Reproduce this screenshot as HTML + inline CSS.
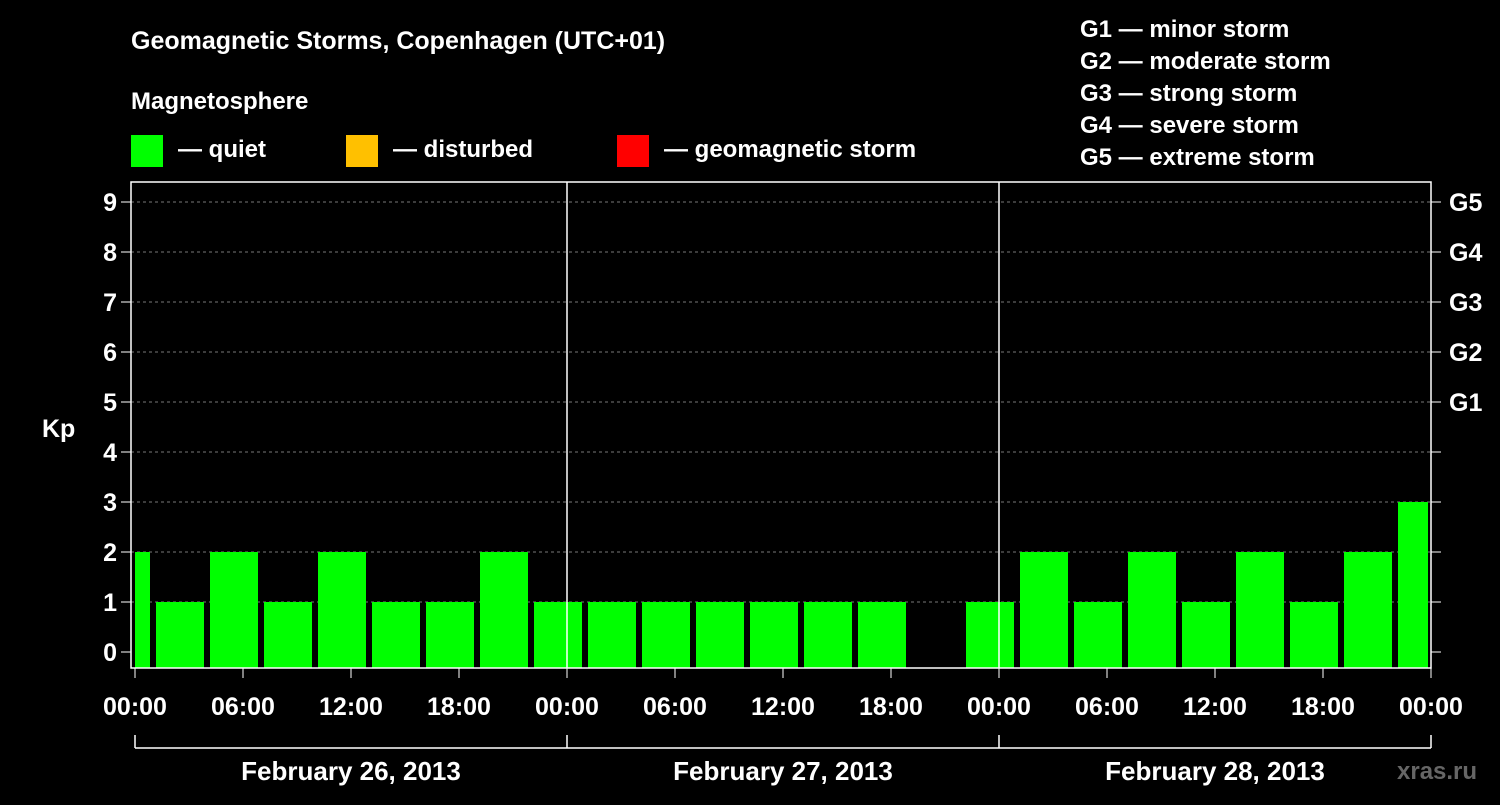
<!DOCTYPE html>
<html><head><meta charset="utf-8"><style>
body{margin:0;background:#000;width:1500px;height:800px;overflow:hidden;font-family:"Liberation Sans",sans-serif}
svg text{font-family:"Liberation Sans",sans-serif;font-weight:bold;fill:#fff}
</style></head><body>
<svg id="c" width="1500" height="800">
<text x="131" y="49" font-size="25">Geomagnetic Storms, Copenhagen (UTC+01)</text>
<text x="131" y="109" font-size="24">Magnetosphere</text>
<rect x="131" y="135" width="32" height="32" fill="#00ff00"/>
<text x="178" y="157" font-size="24">— quiet</text>
<rect x="346" y="135" width="32" height="32" fill="#ffc000"/>
<text x="393" y="157" font-size="24">— disturbed</text>
<rect x="617" y="135" width="32" height="32" fill="#ff0000"/>
<text x="664" y="157" font-size="24">— geomagnetic storm</text>
<g font-size="24">
<text x="1080" y="37">G1 — minor storm</text>
<text x="1080" y="69">G2 — moderate storm</text>
<text x="1080" y="101">G3 — strong storm</text>
<text x="1080" y="133">G4 — severe storm</text>
<text x="1080" y="165">G5 — extreme storm</text>
</g>
<text x="42" y="437" font-size="25">Kp</text>
<text x="1397" y="779" font-size="24" fill="#555" style="fill:#666">xras.ru</text>
<g id="plot"></g>
</svg>
<script>
const kpValues=[2,1,2,1,2,1,1,2,1,1,1,1,1,1,1,null,1,2,1,2,1,2,1,2,3];
const startHour=-2; // bars start at 22:00 UTC of previous day (local 23:00 -> shown from 00:00 clipped)
const dayLabels=["February 26, 2013","February 27, 2013","February 28, 2013"];
const xTickLabels=["00:00","06:00","12:00","18:00"];
const gLabels=["G1","G2","G3","G4","G5"];
const X0=135,PXH=18,Y0=652,PXK=50,TOP=182,BOT=668,LEFT=131,RIGHT=1431;
const xs=h=>X0+h*PXH, ys=k=>Y0-k*PXK;
const ns="http://www.w3.org/2000/svg",g=document.getElementById('plot');
function mk(t,a){const e=document.createElementNS(ns,t);for(const k in a)e.setAttribute(k,a[k]);g.appendChild(e);return e;}
for(let k=0;k<=9;k++){
 const y=ys(k);
 if(k>0){const l=mk('line',{x1:LEFT,x2:RIGHT,y1:y,y2:y,stroke:'#777','stroke-dasharray':'3,3','stroke-width':1});
 
 }
 const t=mk('line',{x1:LEFT-10,x2:LEFT,y1:y,y2:y,stroke:'#fff','stroke-width':1});
 
 
 const t2=mk('line',{x1:RIGHT,x2:RIGHT+10,y1:y,y2:y,stroke:'#fff','stroke-width':1});
 
 
 const tx=mk('text',{x:LEFT-14,y:y+9,'font-size':25,'text-anchor':'end'});tx.textContent=k;
 
 
 if(k>=5){const gt=mk('text',{x:RIGHT+18,y:y+9,'font-size':25});gt.textContent=gLabels[k-5];
 
 }
}
kpValues.forEach((v,i)=>{
 if(v===null)return;
 let h0=startHour+i*3,h1=h0+3;
 let x0=xs(h0)+3,x1=xs(h1)-3;
 if(x0<X0)x0=X0; if(x1>RIGHT-3)x1=RIGHT-3;
 const color=v>=5?'#ff0000':(v>=4?'#ffc000':'#00ff00');
 const r=mk('rect',{x:x0,y:ys(v),width:x1-x0,height:BOT-ys(v),fill:color});
 
 
});
const fr=mk('rect',{x:LEFT,y:TOP,width:RIGHT-LEFT,height:BOT-TOP,fill:'none',stroke:'#fff','stroke-width':1.5});


for(let d=0;d<=3;d++){
 const x=xs(d*24);
 if(d>0&&d<3){const v=mk('line',{x1:x,x2:x,y1:TOP,y2:BOT,stroke:'#fff','stroke-width':1.5});
 
 }
 const b=mk('line',{x1:x,x2:x,y1:735,y2:748,stroke:'#fff','stroke-width':1.5});
 
 
}
const br=mk('line',{x1:xs(0),x2:xs(72),y1:748,y2:748,stroke:'#fff','stroke-width':1.5});


for(let h=0;h<=72;h+=6){
 const x=xs(h);
 const t=mk('line',{x1:x,x2:x,y1:BOT,y2:BOT+10,stroke:'#fff','stroke-width':1});
 
 
 const tx=mk('text',{x:x,y:715,'font-size':25,'text-anchor':'middle'});tx.textContent=xTickLabels[(h/6)%4];
 
 
}
dayLabels.forEach((s,d)=>{
 const tx=mk('text',{x:xs(d*24+12),y:780,'font-size':26,'text-anchor':'middle'});tx.textContent=s;
 
 
});
</script>
</body></html>
